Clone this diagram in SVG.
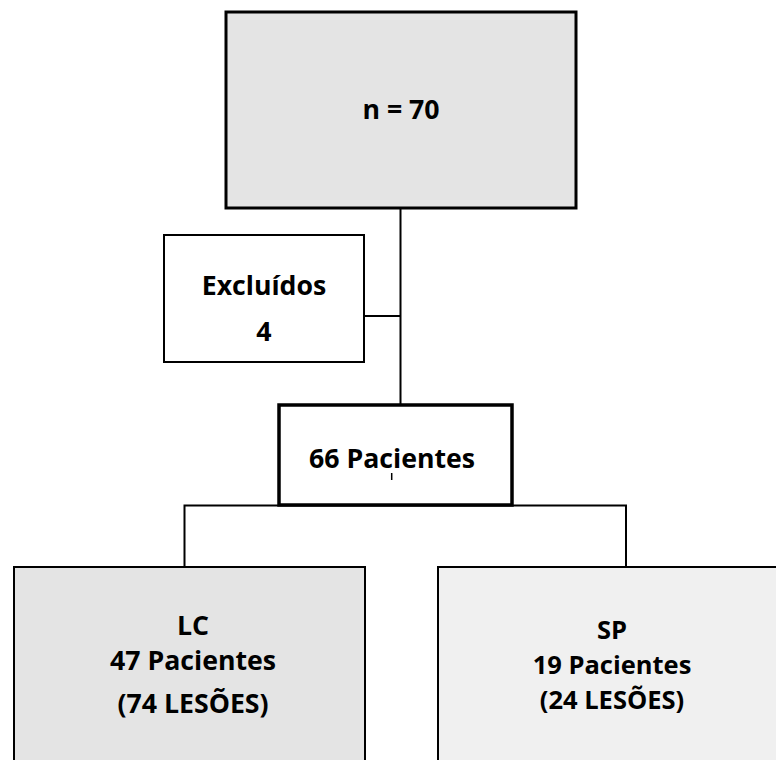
<svg xmlns="http://www.w3.org/2000/svg" width="776" height="760" viewBox="0 0 776 760">
<style>
text{font-family:"Open Sans","Noto Sans","Liberation Sans",sans-serif;font-weight:bold;font-size:26.7px;fill:#000;text-anchor:middle}
.c{fill:none;stroke:#000;stroke-width:2}
.t{font-size:25.5px}
</style>
<rect width="776" height="760" fill="#fff"/>
<g id="connectors">
<path class="c" d="M400.5 208V404M400.5 316H364"/>
<path class="c" d="M184.5 566V505.5H626V566"/>
</g>
<g id="n70">
<rect x="226" y="12" width="350" height="196" fill="#e4e4e4" stroke="#000" stroke-width="3"/>
<text x="401" y="119">n = 70</text>
</g>
<g id="excluidos">
<rect x="164" y="235" width="200" height="127" fill="#fff" stroke="#000" stroke-width="2"/>
<text x="264" y="295">Excluídos</text>
<text x="264" y="341">4</text>
</g>
<g id="pacientes66">
<rect x="279" y="405" width="233" height="100" fill="#fff" stroke="#000" stroke-width="3.5"/>
<text x="392" y="468">66 Pacientes</text>
<path d="M391.7 473V480" stroke="#000" stroke-width="1.5"/>
</g>
<g id="lc">
<rect x="14" y="567" width="351" height="210" fill="#e4e4e4" stroke="#000" stroke-width="2"/>
<text x="193" y="635">LC</text>
<text x="193" y="670">47 Pacientes</text>
<text x="193" y="713">(74 LESÕES)</text>
</g>
<g id="sp">
<rect x="438" y="567" width="345" height="210" fill="#f0f0f0" stroke="#000" stroke-width="2"/>
<text class="t" x="612" y="639">SP</text>
<text class="t" x="612" y="674">19 Pacientes</text>
<text class="t" x="612" y="709">(24 LESÕES)</text>
</g>
</svg>
